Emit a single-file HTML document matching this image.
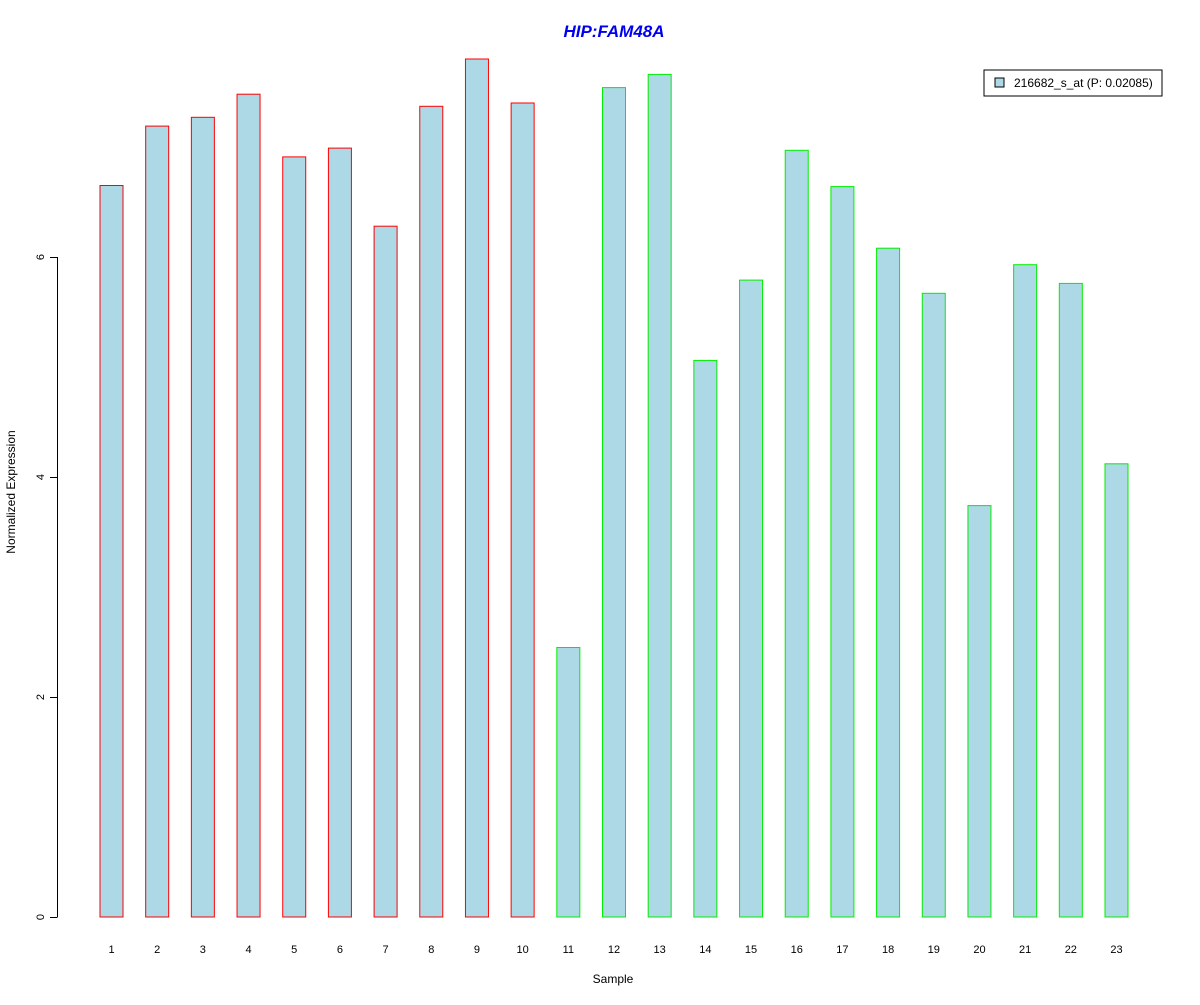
<!DOCTYPE html>
<html><head><meta charset="utf-8"><style>
body{margin:0;background:#fff}
svg text{font-family:"Liberation Sans",Arial,sans-serif}
</style></head><body>
<svg id="chart" width="1200" height="1000" xmlns="http://www.w3.org/2000/svg">
<rect width="1200" height="1000" fill="#fff"/>
<text x="614" y="37" text-anchor="middle" font-size="17" font-weight="bold" font-style="italic" fill="#0000ee">HIP:FAM48A</text>
<g id="bars"></g>
<g id="yaxis"></g>
<g id="xlabels"></g>
<text x="613" y="983" text-anchor="middle" font-size="12">Sample</text>
<text transform="translate(15,492) rotate(-90)" text-anchor="middle" font-size="12">Normalized Expression</text>
<g>
<rect x="984" y="70" width="178" height="26" fill="#fff" stroke="#000"/>
<rect x="995" y="78" width="9" height="9" fill="#add8e6" stroke="#000"/>
<text x="1014" y="87" font-size="12">216682_s_at (P: 0.02085)</text>
</g>
</svg>
<script>
const categories=["1","2","3","4","5","6","7","8","9","10","11","12","13","14","15","16","17","18","19","20","21","22","23"];
const values=[6.65,7.19,7.27,7.48,6.91,6.99,6.28,7.37,7.8,7.4,2.45,7.54,7.66,5.06,5.79,6.97,6.64,6.08,5.67,3.74,5.93,5.76,4.12];
const groups=["a","a","a","a","a","a","a","a","a","a","b","b","b","b","b","b","b","b","b","b","b","b","b"];
const yTicks=[0,2,4,6];
const NS="http://www.w3.org/2000/svg";
const y=v=>917-v*110;
const xc=i=>111.5+i*(1005/22);
const bw=23;
const bars=document.getElementById('bars');
values.forEach((v,i)=>{
  const r=document.createElementNS(NS,'rect');
  r.setAttribute('x',xc(i)-bw/2);r.setAttribute('y',y(v));
  r.setAttribute('width',bw);r.setAttribute('height',y(0)-y(v));
  r.setAttribute('fill','#add8e6');
  r.setAttribute('stroke',groups[i]==='a'?'#ff0000':'#00ee00');
  
  
  bars.appendChild(r);
  const t=document.createElementNS(NS,'text');
  t.setAttribute('x',xc(i));t.setAttribute('y',953);
  t.setAttribute('text-anchor','middle');t.setAttribute('font-size','11');
  t.textContent=categories[i];
  
  
  document.getElementById('xlabels').appendChild(t);
});
const ya=document.getElementById('yaxis');
const l=document.createElementNS(NS,'line');
l.setAttribute('x1',57.5);l.setAttribute('x2',57.5);
l.setAttribute('y1',y(yTicks[yTicks.length-1]));l.setAttribute('y2',y(yTicks[0]));
l.setAttribute('stroke','#000');


ya.appendChild(l);
yTicks.forEach(v=>{
  const k=document.createElementNS(NS,'line');
  k.setAttribute('x1',50);k.setAttribute('x2',57.5);
  k.setAttribute('y1',y(v)+0.5);k.setAttribute('y2',y(v)+0.5);
  k.setAttribute('stroke','#000');
  
  
  ya.appendChild(k);
  const t=document.createElementNS(NS,'text');
  t.setAttribute('transform','translate(44,'+y(v)+') rotate(-90)');
  t.setAttribute('text-anchor','middle');t.setAttribute('font-size','11');
  t.textContent=v;
  
  
  ya.appendChild(t);
});
</script>
</body></html>
